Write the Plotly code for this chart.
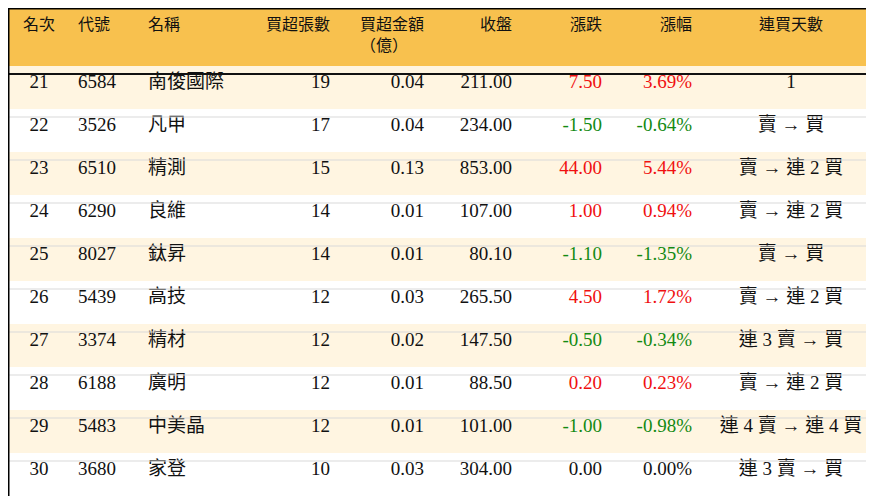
import plotly.graph_objects as go

rank = [21, 22, 23, 24, 25, 26, 27, 28, 29, 30]
code = ["6584", "3526", "6510", "6290", "8027", "5439", "3374", "6188", "5483", "3680"]
name = ["南俊國際", "凡甲", "精測", "良維", "鈦昇", "高技", "精材", "廣明", "中美晶", "家登"]
lots = [19, 17, 15, 14, 14, 12, 12, 12, 12, 10]
amount = [0.04, 0.04, 0.13, 0.01, 0.01, 0.03, 0.02, 0.01, 0.01, 0.03]
close = [211.00, 234.00, 853.00, 107.00, 80.10, 265.50, 147.50, 88.50, 101.00, 304.00]
change = [7.50, -1.50, 44.00, 1.00, -1.10, 4.50, -0.50, 0.20, -1.00, 0.00]
pct = [3.69, -0.64, 5.44, 0.94, -1.35, 1.72, -0.34, 0.23, -0.98, 0.00]
streak = ["1", "賣 → 買", "賣 → 連 2 買", "賣 → 連 2 買", "賣 → 買", "賣 → 連 2 買",
          "連 3 賣 → 買", "賣 → 連 2 買", "連 4 賣 → 連 4 買", "連 3 賣 → 買"]
headers = ["<br>名次", "<br>代號", "<br>名稱", "<br>買超張數", "買超金額<br>（億）",
           "<br>收盤", "<br>漲跌", "<br>漲幅", "<br>連買天數"]

W, H = 874, 496
TOP = 8  # plotly leaves this gap above the table
HEAD_H, ROW_H = 58, 43
FONT = "Liberation Serif, Noto Sans CJK TC"

def col_of(v):
    return "#f01010" if v > 0 else ("#138a13" if v < 0 else "#111111")

n = len(rank)
fills = ["#fff5e1" if i % 2 == 0 else "#ffffff" for i in range(n)]
chg_col = [col_of(v) for v in change]
black = ["#111111"] * n

values = [rank, code, name, lots,
          [f"{v:.2f}" for v in amount],
          [f"{v:.2f}" for v in close],
          [f"{v:.2f}" for v in change],
          [f"{v:.2f}%" for v in pct],
          streak]
align = ["center", "left", "left", "right", "right", "right", "right", "right", "center"]
widths = [62, 70, 100, 98, 94, 88, 90, 90, 182]

fig = go.Figure(go.Table(
    columnwidth=widths,
    header=dict(values=headers, fill_color="#f8c14e", align=align, height=HEAD_H,
                font=dict(family=FONT, size=16, color="#111111"),
                line=dict(color="#f8c14e", width=0)),
    cells=dict(values=values, fill_color=[fills] * 9, align=align, height=ROW_H,
               font=dict(family=FONT, size=19,
                         color=[black, black, black, black, black, black, chg_col, chg_col, black]),
               line=dict(color=[fills] * 9, width=0)),
    domain=dict(x=[0, 1], y=[0, 1]),
))

shapes = []
for i in range(1, n):
    y = 1 - (TOP + HEAD_H + i * ROW_H) / H
    shapes.append(dict(type="line", xref="paper", yref="paper", x0=0, x1=1, y0=y, y1=y,
                       line=dict(color="#d9d9d9", width=1)))
yh = 1 - (TOP + HEAD_H) / H
shapes.append(dict(type="line", xref="paper", yref="paper", x0=0, x1=1, y0=yh, y1=yh,
                   line=dict(color="#111111", width=2)))
shapes.append(dict(type="rect", xref="paper", yref="paper", x0=0, x1=1,
                   y0=1 - TOP / H, y1=1, fillcolor="#f8c14e", line=dict(width=0)))
shapes.append(dict(type="rect", xref="paper", yref="paper", x0=0, x1=1, y0=0, y1=1,
                   line=dict(color="#000000", width=3)))

fig.update_layout(width=W, height=H, margin=dict(l=0, r=0, t=0, b=0),
                  paper_bgcolor="#ffffff", shapes=shapes)
fig.write_html("out.html")
